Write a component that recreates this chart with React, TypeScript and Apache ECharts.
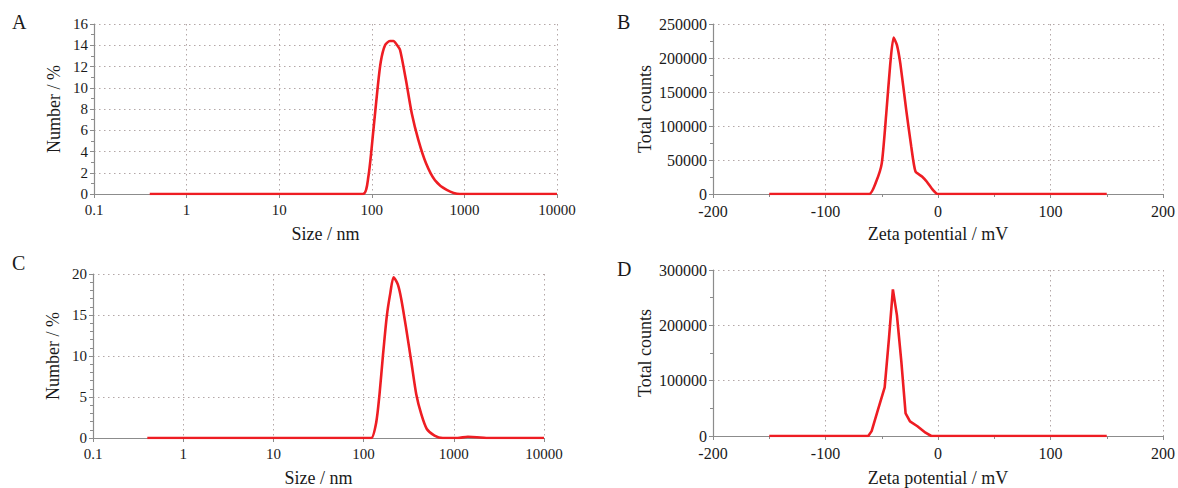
import React, { useEffect, useRef } from "react";
import * as echarts from "echarts";

// Panel A: size distribution (log x)
const sizeA = [0.4, 1, 10, 80, 91.7, 104, 115, 125, 139, 157, 171, 188, 202, 234, 270, 318, 385, 481, 644, 895, 10000];
const numberA = [0, 0, 0, 0, 1.6, 6.0, 9.8, 12.45, 14.0, 14.4, 14.4, 14.0, 13.55, 10.7, 7.6, 5.1, 2.9, 1.3, 0.38, 0, 0];

// Panel B: zeta potential
const zetaB = [-150, -100, -61, -55, -50, -46, -42.4, -39.5, -36.5, -33.5, -28.2, -23.8, -20, -14, -9.9, -4.6, -0.2, 50, 100, 150];
const countsB = [0, 0, 0, 18000, 45000, 118000, 192000, 230000, 219000, 192000, 123000, 70000, 33000, 25500, 18000, 6000, 0, 0, 0, 0];

// Panel C: size distribution (log x)
const sizeC = [0.4, 1, 10, 100, 121.7, 138, 150, 164, 181, 198, 215, 240, 262, 297, 338, 384, 436, 502, 611, 755, 1100, 1430, 1800, 2290, 10000];
const numberC = [0, 0, 0, 0, 0, 1.9, 5.3, 10.1, 14.9, 17.7, 19.6, 18.7, 16.9, 13.3, 9.3, 5.3, 2.9, 1.1, 0.3, 0, 0, 0.15, 0.1, 0, 0];

// Panel D: zeta potential
const zetaD = [-150, -100, -62, -59, -53.4, -47.4, -43.6, -40.1, -36.5, -32.6, -28.8, -24.9, -18.3, -11.1, -6, 50, 100, 150];
const countsD = [0, 0, 0, 8800, 47000, 88000, 176000, 265000, 218000, 135000, 41000, 26500, 17600, 5900, 0, 0, 0, 0];

const panelLetters = ["A", "B", "C", "D"];
const sizeName = "Size / nm";
const numberName = "Number / %";
const zetaName = "Zeta potential / mV";
const countsName = "Total counts";

const FONT = "'Liberation Serif', 'Times New Roman', serif";
const GRID_COLOR = "#b3a7a7";
const AXIS_COLOR = "#8c8c8c";
const RED = "#ee1d23";

const zip = (xs: number[], ys: number[]) => xs.map((x, i) => [x, ys[i]]);

function App() {
  const ref = useRef<HTMLDivElement>(null);

  useEffect(() => {
    if (!ref.current) return;
    const chart = echarts.init(ref.current, undefined, { renderer: "svg" });

    const splitLine = { show: true, lineStyle: { type: [1.5, 3.5] as any, color: GRID_COLOR, width: 1 } };
    const axisLine = { show: true, onZero: false, lineStyle: { color: AXIS_COLOR, width: 1.2 } };
    const axisTick = { show: true, length: 4, lineStyle: { color: AXIS_COLOR } };
    const minorTick = (n: number) => ({ show: true, splitNumber: n, length: 3, lineStyle: { color: AXIS_COLOR } });

    const logX = (gridIndex: number, nameGap: number) => ({
      type: "log",
      logBase: 10,
      gridIndex,
      min: 0.1,
      max: 10000,
      name: sizeName,
      nameLocation: "middle",
      nameGap,
      nameTextStyle: { fontFamily: FONT, fontSize: 18, color: "#1a1a1a" },
      axisLine,
      axisTick,
      splitLine,
      axisLabel: {
        fontFamily: FONT,
        fontSize: 15,
        color: "#1a1a1a",
        margin: 8,
        formatter: (v: number) => (v < 1 ? String(v) : String(Math.round(v))),
      },
    });

    const zetaX = (gridIndex: number, nameGap: number) => ({
      type: "value",
      gridIndex,
      min: -200,
      max: 200,
      interval: 100,
      name: zetaName,
      nameLocation: "middle",
      nameGap,
      nameTextStyle: { fontFamily: FONT, fontSize: 18, color: "#1a1a1a" },
      axisLine,
      axisTick,
      minorTick: minorTick(2),
      splitLine,
      axisLabel: { fontFamily: FONT, fontSize: 16, color: "#1a1a1a", margin: 9, formatter: (v: number) => String(v) },
    });

    const valY = (gridIndex: number, max: number, interval: number, name: string, nameGap: number, minorN: number, fs: number) => ({
      type: "value",
      gridIndex,
      min: 0,
      max,
      interval,
      name,
      nameLocation: "middle",
      nameGap,
      nameTextStyle: { fontFamily: FONT, fontSize: 18, color: "#1a1a1a" },
      axisLine,
      axisTick,
      minorTick: minorTick(minorN),
      splitLine,
      axisLabel: { fontFamily: FONT, fontSize: fs, color: "#1a1a1a", margin: 6, formatter: (v: number) => String(v) },
    });

    const line = (xi: number, data: number[][], smooth: boolean | number) => ({
      type: "line",
      xAxisIndex: xi,
      yAxisIndex: xi,
      data,
      smooth,
      showSymbol: false,
      symbol: "none",
      lineStyle: { color: RED, width: 2.6 },
      z: 5,
    });

    const letter = (t: string, x: number, y: number) => ({
      type: "text",
      left: x,
      top: y,
      style: { text: t, font: `20px ${FONT}`, fill: "#1a1a1a" },
    });

    chart.setOption({
      animation: false,
      backgroundColor: "#ffffff",
      grid: [
        { left: 94, top: 24, width: 463, height: 170 },
        { left: 713, top: 24, width: 451, height: 170 },
        { left: 93, top: 274, width: 451, height: 167 },
        { left: 713, top: 270, width: 451, height: 170 },
      ],
      xAxis: [logX(0, 31), zetaX(1, 31), logX(2, 31), zetaX(3, 33)],
      yAxis: [
        valY(0, 16, 2, numberName, 31, 2, 15),
        valY(1, 250000, 50000, countsName, 59, 2, 16),
        valY(2, 20, 5, numberName, 31, 5, 15),
        valY(3, 300000, 100000, countsName, 59, 2, 16),
      ],
      series: [
        line(0, zip(sizeA, numberA), 0.25),
        line(1, zip(zetaB, countsB), 0.2),
        line(2, zip(sizeC, numberC), 0.25),
        line(3, zip(zetaD, countsD), false),
      ],
      graphic: [
        letter(panelLetters[0], 12, 12),
        letter(panelLetters[1], 617, 12),
        letter(panelLetters[2], 12, 253),
        letter(panelLetters[3], 617, 259),
      ],
    });

    return () => chart.dispose();
  }, []);

  return (
    <div
      ref={ref}
      style={{ position: "fixed", left: 0, top: 0, width: 1178, height: 488, background: "#fff" }}
    />
  );
}

export default App;
